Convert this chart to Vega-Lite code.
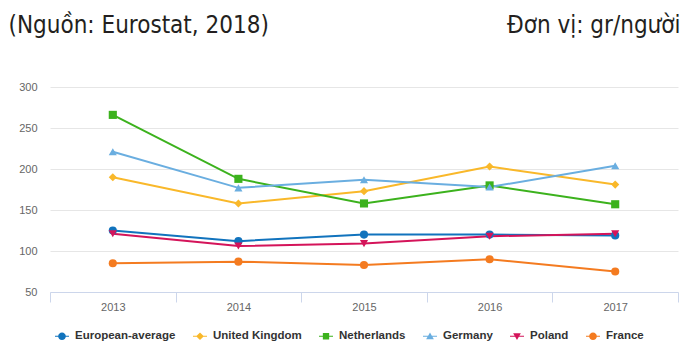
{
  "$schema": "https://vega.github.io/schema/vega-lite/v6.json",
  "autosize": {"type": "none"},
  "padding": {"left": 50, "top": 87, "right": 7, "bottom": 49},
  "width": 628,
  "height": 205,
  "background": "white",
  "config": {
    "view": {"stroke": null},
    "axis": {"labelFont": "Liberation Sans", "labelFontSize": 11, "labelColor": "#666666"}
  },
  "data": {
    "values": [
      {"series": "European-average", "year": 2013, "value": 125},
      {"series": "European-average", "year": 2014, "value": 112},
      {"series": "European-average", "year": 2015, "value": 120},
      {"series": "European-average", "year": 2016, "value": 120},
      {"series": "European-average", "year": 2017, "value": 119},
      {"series": "United Kingdom", "year": 2013, "value": 190},
      {"series": "United Kingdom", "year": 2014, "value": 158},
      {"series": "United Kingdom", "year": 2015, "value": 173},
      {"series": "United Kingdom", "year": 2016, "value": 203},
      {"series": "United Kingdom", "year": 2017, "value": 181},
      {"series": "Netherlands", "year": 2013, "value": 266},
      {"series": "Netherlands", "year": 2014, "value": 188},
      {"series": "Netherlands", "year": 2015, "value": 158},
      {"series": "Netherlands", "year": 2016, "value": 180},
      {"series": "Netherlands", "year": 2017, "value": 157},
      {"series": "Germany", "year": 2013, "value": 221},
      {"series": "Germany", "year": 2014, "value": 177},
      {"series": "Germany", "year": 2015, "value": 187},
      {"series": "Germany", "year": 2016, "value": 178},
      {"series": "Germany", "year": 2017, "value": 204},
      {"series": "Poland", "year": 2013, "value": 121},
      {"series": "Poland", "year": 2014, "value": 106},
      {"series": "Poland", "year": 2015, "value": 109},
      {"series": "Poland", "year": 2016, "value": 118},
      {"series": "Poland", "year": 2017, "value": 121},
      {"series": "France", "year": 2013, "value": 85},
      {"series": "France", "year": 2014, "value": 87},
      {"series": "France", "year": 2015, "value": 83},
      {"series": "France", "year": 2016, "value": 90},
      {"series": "France", "year": 2017, "value": 75}
    ]
  },
  "encoding": {
    "x": {
      "field": "year",
      "type": "quantitative",
      "scale": {"domain": [2012.5, 2017.5], "nice": false, "zero": false},
      "axis": {
        "values": [2012.5, 2013.5, 2014.5, 2015.5, 2016.5, 2017.5],
        "labelExpr": "datum.value > 2017 ? '' : format(datum.value + 0.5, 'd')",
        "labelOffset": 62.8,
        "labelFlush": false,
        "labelOverlap": false,
        "labelBound": false,
        "grid": false,
        "domainColor": "#ccd6eb",
        "tickColor": "#ccd6eb",
        "tickSize": 10,
        "labelPadding": -1,
        "title": "Đơn vị: gr/người",
        "titleX": 630,
        "titleY": -260,
        "titleAlign": "right",
        "titleBaseline": "alphabetic",
        "titleAngle": 0,
        "titleFont": "DejaVu Sans Condensed",
        "titleFontSize": 24,
        "titleFontWeight": "normal",
        "titleColor": "#231f20"
      }
    },
    "y": {
      "field": "value",
      "type": "quantitative",
      "scale": {"domain": [50, 300], "nice": false, "zero": false},
      "axis": {
        "values": [50, 100, 150, 200, 250, 300],
        "domain": false,
        "ticks": false,
        "gridColor": "#e6e6e6",
        "labelPadding": 13,
        "title": "(Nguồn: Eurostat, 2018)",
        "titleX": -42,
        "titleY": -55,
        "titleAlign": "left",
        "titleBaseline": "alphabetic",
        "titleAngle": 0,
        "titleFont": "DejaVu Sans Condensed",
        "titleFontSize": 24,
        "titleFontWeight": "normal",
        "titleColor": "#231f20"
      }
    },
    "color": {
      "field": "series",
      "type": "nominal",
      "scale": {
        "domain": ["European-average", "United Kingdom", "Netherlands", "Germany", "Poland", "France"],
        "range": ["#1173bd", "#f9b82a", "#3cb21d", "#6aaee0", "#d4145a", "#f47b20"]
      },
      "legend": {
        "title": null,
        "orient": "none",
        "legendX": 5,
        "legendY": 242,
        "direction": "horizontal",
        "columns": 6,
        "symbolSize": 196,
        "symbolStrokeWidth": 0,
        "labelFont": "Liberation Sans",
        "labelFontSize": 11.5,
        "labelFontWeight": "bold",
        "labelColor": "#333333",
        "labelOffset": 6,
        "columnPadding": 17,
        "encode": {
          "symbols": {
            "update": {
              "shape": {"signal": "(datum.value === 'European-average' || datum.value === 'France') ? 'M-1,-0.08H1V0.08H-1Z M0.55,0A0.55,0.55 0 1,1 -0.55,0A0.55,0.55 0 1,1 0.55,0Z' : datum.value === 'United Kingdom' ? 'M-1,-0.08H1V0.08H-1Z M0,-0.55L0.55,0L0,0.55L-0.55,0Z' : datum.value === 'Netherlands' ? 'M-1,-0.08H1V0.08H-1Z M-0.45,-0.45H0.45V0.45H-0.45Z' : datum.value === 'Germany' ? 'M-1,-0.08H1V0.08H-1Z M0,-0.55L0.55,0.42H-0.55Z' : 'M-1,-0.08H1V0.08H-1Z M0,0.55L-0.55,-0.42H0.55Z'"},
              "fill": {"scale": "color", "field": "value"},
              "strokeWidth": {"value": 0},
              "opacity": {"value": 1}
            }
          }
        }
      }
    }
  },
  "layer": [
    {"mark": {"type": "line", "strokeWidth": 2}},
    {
      "mark": {
        "type": "point",
        "filled": true,
        "size": 66,
        "opacity": 1,
        "shape": {"expr": "datum.series === 'United Kingdom' ? 'diamond' : datum.series === 'Netherlands' ? 'square' : datum.series === 'Germany' ? 'triangle-up' : datum.series === 'Poland' ? 'triangle-down' : 'circle'"}
      }
    }
  ]
}
